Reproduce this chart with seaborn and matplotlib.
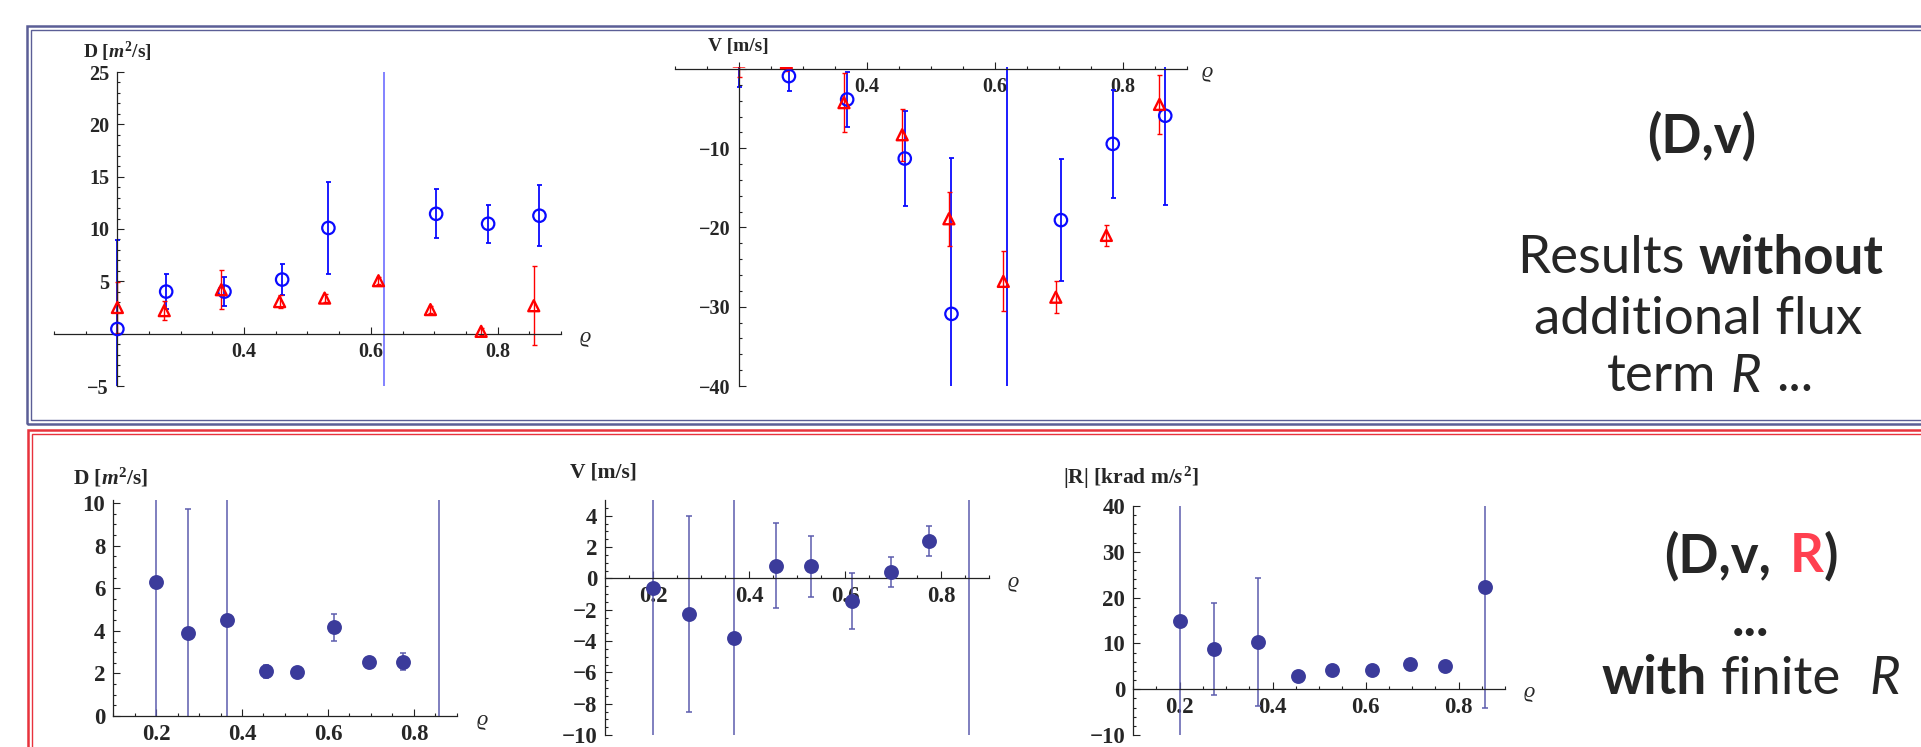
import matplotlib
matplotlib.use("Agg")
import matplotlib.pyplot as plt
from matplotlib.patches import Rectangle
import numpy as np
import pandas as pd
import seaborn as sns

# ---- data: results without R (top row) ----
rho_blue_D = [0.200, 0.277, 0.369, 0.460, 0.533, 0.620, 0.703, 0.785, 0.866]
D_blue = [0.45, 4.02, 4.02, 5.17, 10.1, 40.0, 11.45, 10.5, 11.27]
D_blue_err = [8.5, 1.7, 1.35, 1.5, 4.4, 60.0, 2.35, 1.8, 2.9]

rho_red_D = [0.200, 0.274, 0.364, 0.456, 0.527, 0.612, 0.694, 0.774, 0.857]
D_red = [2.5, 2.2, 4.2, 3.06, 3.4, 5.06, 2.3, 0.22, 2.67]
D_red_err = [2.4, 0.9, 1.85, 0.65, 0.4, 0.35, 0.3, 0.3, 3.8]

rho_blue_V = [0.200, 0.278, 0.369, 0.459, 0.532, 0.619, 0.703, 0.784, 0.866]
V_blue = [1.5, -0.9, -3.85, -11.3, -30.9, 20.0, -19.07, -9.45, -5.9]
V_blue_err = [3.8, 1.9, 3.5, 6.0, 19.7, 90.0, 7.7, 6.8, 11.3]

rho_red_V = [0.200, 0.274, 0.364, 0.455, 0.528, 0.613, 0.695, 0.774, 0.857]
V_red = [1.0, 0.8, -4.25, -8.3, -18.9, -26.8, -28.8, -21.0, -4.47]
V_red_err = [2.0, 1.0, 3.7, 3.3, 3.4, 3.8, 2.0, 1.3, 3.7]

# ---- data: results with finite R (bottom row) ----
rho_D2 = [0.200, 0.274, 0.365, 0.456, 0.528, 0.615, 0.695, 0.775, 0.858]
D2 = [6.3, 3.91, 4.5, 2.1, 2.06, 4.16, 2.53, 2.56, 14.0]
D2_err = [9.0, 5.8, 12.0, 0.3, 0.15, 0.65, 0.2, 0.42, 20.0]

rho_V2 = [0.200, 0.275, 0.368, 0.457, 0.530, 0.614, 0.696, 0.776, 0.858]
V2 = [-0.6, -2.3, -3.84, 0.81, 0.76, -1.45, 0.4, 2.38, 8.0]
V2_err = [15.0, 6.25, 15.0, 2.7, 1.95, 1.8, 0.93, 0.95, 25.0]

rho_R = [0.200, 0.275, 0.368, 0.454, 0.527, 0.615, 0.695, 0.772, 0.856]
R2 = [14.8, 8.83, 10.3, 2.9, 4.3, 4.3, 5.5, 5.0, 22.4]
R2_err = [28.0, 10.0, 14.0, 0.3, 0.3, 0.3, 0.3, 0.3, 26.4]

BLUE = "#0a0aff"
RED = "#ff0000"
NAVY = "#3b3b9b"
NAVY_BAR = "#5c5cae"
FRAME_BLUE = "#5b5e96"
FRAME_RED = "#e8323c"
SANS = ["Lato", "DejaVu Sans"]
SERIF = ["Liberation Serif", "DejaVu Serif"]

sns.set_theme(style="white")
plt.rcParams["font.family"] = SERIF
plt.rcParams["mathtext.fontset"] = "custom"
plt.rcParams["mathtext.rm"] = "Liberation Serif:bold"
plt.rcParams["mathtext.it"] = "Liberation Serif:italic:bold"
plt.rcParams["mathtext.bf"] = "Liberation Serif:bold"

W, H = 1921, 747
fig = plt.figure(figsize=(W / 100, H / 100), dpi=100)
fig.patch.set_facecolor("white")


def px_axes(x0, x1, y0, y1):
    ax = fig.add_axes([x0 / W, 1 - y1 / H, (x1 - x0) / W, (y1 - y0) / H])
    ax.set_facecolor("none")
    return ax


def ftext(x, y, s, **kw):
    return fig.text(x / W, 1 - y / H, s, **kw)


def style_axes(ax, ylim, y_at, xlabels, yticks, ylabels, ystep, fs, pad):
    ax.set_xlim(0.1, 0.9)
    ax.set_ylim(*ylim)
    ax.set_xlabel("")
    ax.set_ylabel("")
    for s in ["top", "right"]:
        ax.spines[s].set_visible(False)
    ax.spines["left"].set_position(("data", y_at))
    ax.spines["bottom"].set_position(("data", 0))
    for s in ["left", "bottom"]:
        ax.spines[s].set_color("#222222")
        ax.spines[s].set_linewidth(0.9)
    ax.set_xticks([0.2, 0.4, 0.6, 0.8], xlabels, fontsize=fs, fontweight="bold")
    ax.set_xticks(np.arange(0.1, 0.901, 0.05), minor=True)
    ax.set_yticks(yticks, ylabels, fontsize=fs, fontweight="bold")
    ax.set_yticks(np.arange(ylim[0], ylim[1], ystep), minor=True)
    ax.tick_params(which="both", direction="in", color="#222222", width=0.8,
                   left=True, bottom=True)
    ax.tick_params(which="major", length=5, pad=pad)
    ax.tick_params(which="minor", length=2.5)


def bars(ax, x, y, err, color, lw, cap, big_alpha=None, thresh=30):
    x, y, err = np.array(x), np.array(y), np.array(err)
    big = err >= thresh
    ax.errorbar(x[~big], y[~big], yerr=err[~big], fmt="none", ecolor=color,
                elinewidth=lw, capsize=cap, capthick=lw, zorder=2)
    ax.errorbar(x[big], y[big], yerr=err[big], fmt="none", ecolor=color,
                elinewidth=lw, capsize=cap, capthick=lw, zorder=2,
                alpha=big_alpha if big_alpha else 1)


def rich_line(x, y, parts, size):
    r = fig.canvas.get_renderer()
    objs, gaps = [], []
    for s, kw, gap in parts:
        objs.append(ftext(0, 0, s, fontsize=size, va="center", ha="left",
                          family=SANS, **kw))
        gaps.append(gap)
    widths = [t.get_window_extent(r).width for t in objs]
    sp = size * 100 / 72 * 0.27
    total = sum(widths) + sp * sum(gaps[:-1])
    cur = x - total / 2
    for t, w, g in zip(objs, widths, gaps):
        t.set_position((cur / W, 1 - y / H))
        cur += w + sp * g


# ---------- frames ----------
fig.add_artist(Rectangle((27 / W, 1 - 424 / H), 2000 / W, 398 / H, transform=fig.transFigure,
                         fill=False, ec=FRAME_BLUE, lw=1.8))
fig.add_artist(Rectangle((31 / W, 1 - 420 / H), 2000 / W, 390 / H, transform=fig.transFigure,
                         fill=False, ec=FRAME_BLUE, lw=1.0))
fig.add_artist(Rectangle((28 / W, 1 - 800 / H), 2000 / W, 370 / H, transform=fig.transFigure,
                         fill=False, ec=FRAME_RED, lw=1.8))
fig.add_artist(Rectangle((32 / W, 1 - 800 / H), 2000 / W, 366 / H, transform=fig.transFigure,
                         fill=False, ec=FRAME_RED, lw=1.0))

# ---------- top left: D without R ----------
ax = px_axes(54, 561, 72, 386)
bars(ax, rho_blue_D, D_blue, D_blue_err, BLUE, 1.3, 1.8, big_alpha=0.55)
bars(ax, rho_red_D, D_red, D_red_err, RED, 1.0, 1.8)
df = pd.DataFrame({"rho": rho_blue_D, "D": D_blue})
sns.scatterplot(data=df, x="rho", y="D", ax=ax, marker="o", s=80,
                facecolor="none", edgecolor=BLUE, linewidth=1.6, zorder=3)
df = pd.DataFrame({"rho": rho_red_D, "D": D_red})
sns.scatterplot(data=df, x="rho", y="D", ax=ax, marker="^", s=62,
                facecolor="none", edgecolor=RED, linewidth=1.7, zorder=3)
style_axes(ax, (-5, 25), 0.2, ["", "0.4", "0.6", "0.8"],
           [-5, 0, 5, 10, 15, 20, 25], ["\u22125", "", "5", "10", "15", "20", "25"],
           1, 14.5, 6.0)
ftext(83, 52, r"D [$m^2$/s]", fontsize=14, fontweight="bold", va="center")
ftext(585, 337, "\u03f1", fontsize=16, style="italic", va="center", ha="center")

# ---------- top middle: V without R ----------
ax = px_axes(675, 1187, 66.6, 386)
bars(ax, rho_blue_V, V_blue, V_blue_err, BLUE, 1.3, 1.8, thresh=50)
bars(ax, rho_red_V, V_red, V_red_err, RED, 1.0, 1.8)
df = pd.DataFrame({"rho": rho_blue_V, "V": V_blue})
sns.scatterplot(data=df, x="rho", y="V", ax=ax, marker="o", s=80,
                facecolor="none", edgecolor=BLUE, linewidth=1.6, zorder=3)
df = pd.DataFrame({"rho": rho_red_V, "V": V_red})
sns.scatterplot(data=df, x="rho", y="V", ax=ax, marker="^", s=62,
                facecolor="none", edgecolor=RED, linewidth=1.7, zorder=3)
style_axes(ax, (-40, 0.3), 0.2, ["", "0.4", "0.6", "0.8"],
           [-40, -30, -20, -10, 0], ["\u221240", "\u221230", "\u221220", "\u221210", ""],
           2, 14.5, 6.0)
ftext(708, 47, "V [m/s]", fontsize=14, fontweight="bold", va="center")
ftext(1207, 72, "\u03f1", fontsize=16, style="italic", va="center", ha="center")

# ---------- bottom left: D with R ----------
ax = px_axes(113, 457, 500, 716)
bars(ax, rho_D2, D2, D2_err, NAVY_BAR, 1.1, 2.0)
df = pd.DataFrame({"rho": rho_D2, "D": D2})
sns.scatterplot(data=df, x="rho", y="D", ax=ax, marker="o", s=115,
                color=NAVY, edgecolor=NAVY, linewidth=0, zorder=3)
style_axes(ax, (0, 10.15), 0.1, ["0.2", "0.4", "0.6", "0.8"],
           [0, 2, 4, 6, 8, 10], ["0", "2", "4", "6", "8", "10"],
           0.5, 16.5, 5.5)
ftext(73, 478, r"D [$m^2$/s]", fontsize=15.5, fontweight="bold", va="center")
ftext(482, 720, "\u03f1", fontsize=16, style="italic", va="center", ha="center")

# ---------- bottom middle: V with R ----------
ax = px_axes(605, 989, 500, 735)
bars(ax, rho_V2, V2, V2_err, NAVY_BAR, 1.1, 2.0)
df = pd.DataFrame({"rho": rho_V2, "V": V2})
sns.scatterplot(data=df, x="rho", y="V", ax=ax, marker="o", s=115,
                color=NAVY, edgecolor=NAVY, linewidth=0, zorder=3)
style_axes(ax, (-10, 5), 0.1, ["0.2", "0.4", "0.6", "0.8"],
           [-10, -8, -6, -4, -2, 0, 2, 4],
           ["\u221210", "\u22128", "\u22126", "\u22124", "\u22122", "0", "2", "4"],
           0.5, 16.5, 5.5)
ftext(570, 473, "V [m/s]", fontsize=15.5, fontweight="bold", va="center")
ftext(1013, 582, "\u03f1", fontsize=16, style="italic", va="center", ha="center")

# ---------- bottom right: |R| ----------
ax = px_axes(1133, 1505, 506, 735)
bars(ax, rho_R, R2, R2_err, NAVY_BAR, 1.1, 2.0)
df = pd.DataFrame({"rho": rho_R, "R": R2})
sns.scatterplot(data=df, x="rho", y="R", ax=ax, marker="o", s=115,
                color=NAVY, edgecolor=NAVY, linewidth=0, zorder=3)
style_axes(ax, (-10, 40), 0.1, ["0.2", "0.4", "0.6", "0.8"],
           [-10, 0, 10, 20, 30, 40], ["\u221210", "0", "10", "20", "30", "40"],
           2, 16.5, 5.5)
ftext(1063, 478, r"|R| [krad m/$s^2$]", fontsize=15.5, fontweight="bold", va="center")
ftext(1529, 693, "\u03f1", fontsize=16, style="italic", va="center", ha="center")

# ---------- right-hand captions ----------
BIG = 38
rich_line(1702, 136, [("(D,v)", dict(fontweight="bold"), 0)], BIG)
rich_line(1700, 258, [("Results", {}, 1), ("without", dict(fontweight="bold"), 0)], BIG)
rich_line(1698, 320, [("additional flux", {}, 0)], BIG)
rich_line(1710, 377, [("term", {}, 1), ("R", dict(style="italic"), 1), ("...", {}, 0)], BIG)

rich_line(1751, 556, [("(D,v,", dict(fontweight="bold"), 1.3),
                      ("R", dict(fontweight="bold", color="#ff4050"), 0),
                      (")", dict(fontweight="bold"), 0)], BIG)
rich_line(1751, 620, [("...", dict(fontweight="bold"), 0)], BIG)
rich_line(1751, 679, [("with", dict(fontweight="bold"), 1), ("finite", {}, 2),
                      ("R", dict(style="italic"), 0)], BIG)

fig.savefig("out.png", dpi=100, facecolor="white")
